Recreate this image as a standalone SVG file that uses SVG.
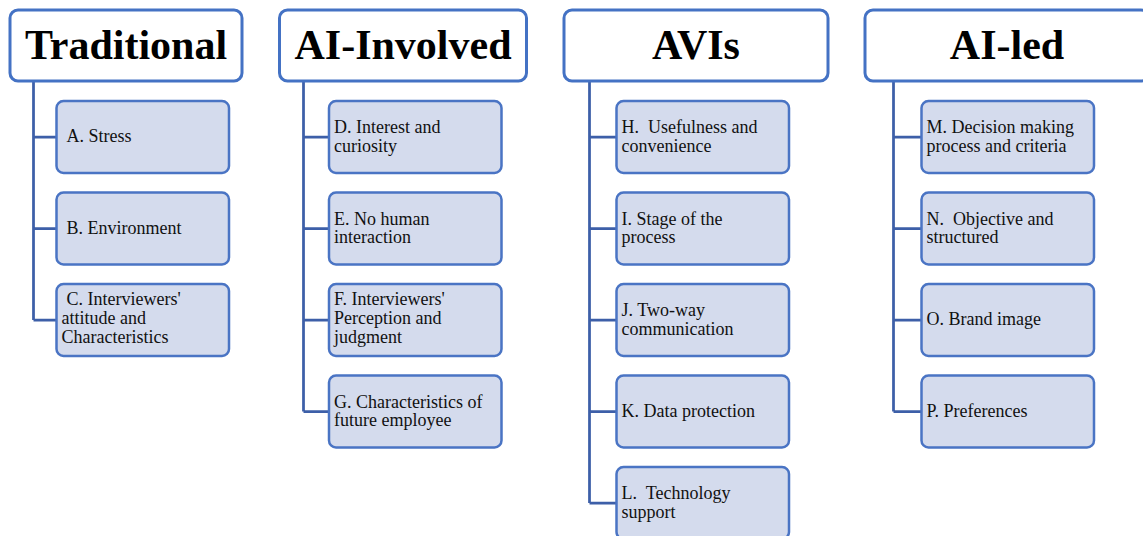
<svg xmlns="http://www.w3.org/2000/svg" width="1143" height="536" viewBox="0 0 1143 536">
  <style>
    .head { fill: #ffffff; stroke: #4472c4; stroke-width: 3; }
    .head-label { font-family: "Liberation Serif", "Times New Roman", serif; font-weight: bold; font-size: 42px; fill: #000000; text-anchor: middle; }
    .item { fill: #d4dbed; stroke: #4a74c4; stroke-width: 2.5; }
    .item-label { font-family: "Liberation Serif", "Times New Roman", serif; font-size: 18px; fill: #111111; }
    .link { fill: none; stroke: #3d5fa8; stroke-width: 2.75; }
  </style>
  <rect width="1143" height="536" fill="#ffffff"/>

  <!-- tree connectors: one spine per column with branches to each item -->
  <g id="connectors">
    <path class="link" d="M33.5 81 V320 M33.5 137 H56.5 M33.5 228.5 H56.5 M33.5 320 H56.5"/>
    <path class="link" d="M303.5 81 V411.5 M303.5 137 H329 M303.5 228.5 H329 M303.5 320 H329 M303.5 411.5 H329"/>
    <path class="link" d="M589.5 81 V503 M589.5 137 H616.5 M589.5 228.5 H616.5 M589.5 320 H616.5 M589.5 411.5 H616.5 M589.5 503 H616.5"/>
    <path class="link" d="M893.5 81 V411.5 M893.5 137 H921.5 M893.5 228.5 H921.5 M893.5 320 H921.5 M893.5 411.5 H921.5"/>
  </g>

  <!-- column headers -->
  <g id="traditional">
    <rect class="head" x="10" y="10" width="232" height="71" rx="8"/>
    <text class="head-label" x="126" y="59">Traditional</text>
  </g>
  <g id="ai-involved">
    <rect class="head" x="279.5" y="10" width="247" height="71" rx="8"/>
    <text class="head-label" x="403" y="59">AI-Involved</text>
  </g>
  <g id="avis">
    <rect class="head" x="564" y="10" width="264" height="71" rx="8"/>
    <text class="head-label" x="696" y="59">AVIs</text>
  </g>
  <g id="ai-led">
    <rect class="head" x="865" y="10" width="284" height="71" rx="8"/>
    <text class="head-label" x="1007" y="59">AI-led</text>
  </g>

  <!-- Traditional items -->
  <g id="item-a">
    <rect class="item" x="56.5" y="101" width="172.5" height="72" rx="7"/>
    <text class="item-label" x="66.5" y="142">A. Stress</text>
  </g>
  <g id="item-b">
    <rect class="item" x="56.5" y="192.5" width="172.5" height="72" rx="7"/>
    <text class="item-label" x="66.5" y="233.5">B. Environment</text>
  </g>
  <g id="item-c">
    <rect class="item" x="56.5" y="284" width="172.5" height="72" rx="7"/>
    <text class="item-label" y="305"><tspan x="66.5">C. Interviewers'</tspan><tspan x="61.5" dy="19">attitude and</tspan><tspan x="61.5" dy="19">Characteristics</tspan></text>
  </g>

  <!-- AI-Involved items -->
  <g id="item-d">
    <rect class="item" x="329" y="101" width="172.5" height="72" rx="7"/>
    <text class="item-label" y="133"><tspan x="334">D. Interest and</tspan><tspan x="334" dy="18.5">curiosity</tspan></text>
  </g>
  <g id="item-e">
    <rect class="item" x="329" y="192.5" width="172.5" height="72" rx="7"/>
    <text class="item-label" y="224.5"><tspan x="334">E. No human</tspan><tspan x="334" dy="18.5">interaction</tspan></text>
  </g>
  <g id="item-f">
    <rect class="item" x="329" y="284" width="172.5" height="72" rx="7"/>
    <text class="item-label" y="305"><tspan x="334">F. Interviewers'</tspan><tspan x="334" dy="19">Perception and</tspan><tspan x="334" dy="19">judgment</tspan></text>
  </g>
  <g id="item-g">
    <rect class="item" x="329" y="375.5" width="172.5" height="72" rx="7"/>
    <text class="item-label" y="407.5"><tspan x="334">G. Characteristics of</tspan><tspan x="334" dy="18.5">future employee</tspan></text>
  </g>

  <!-- AVIs items -->
  <g id="item-h">
    <rect class="item" x="616.5" y="101" width="172.5" height="72" rx="7"/>
    <text class="item-label" y="133" xml:space="preserve"><tspan x="621.5">H.  Usefulness and</tspan><tspan x="621.5" dy="18.5">convenience</tspan></text>
  </g>
  <g id="item-i">
    <rect class="item" x="616.5" y="192.5" width="172.5" height="72" rx="7"/>
    <text class="item-label" y="224.5"><tspan x="621.5">I. Stage of the</tspan><tspan x="621.5" dy="18.5">process</tspan></text>
  </g>
  <g id="item-j">
    <rect class="item" x="616.5" y="284" width="172.5" height="72" rx="7"/>
    <text class="item-label" y="316"><tspan x="621.5">J. Two-way</tspan><tspan x="621.5" dy="18.5">communication</tspan></text>
  </g>
  <g id="item-k">
    <rect class="item" x="616.5" y="375.5" width="172.5" height="72" rx="7"/>
    <text class="item-label" x="621.5" y="416.5">K. Data protection</text>
  </g>
  <g id="item-l">
    <rect class="item" x="616.5" y="467" width="172.5" height="72" rx="7"/>
    <text class="item-label" y="499" xml:space="preserve"><tspan x="621.5">L.  Technology</tspan><tspan x="621.5" dy="18.5">support</tspan></text>
  </g>

  <!-- AI-led items -->
  <g id="item-m">
    <rect class="item" x="921.5" y="101" width="172.5" height="72" rx="7"/>
    <text class="item-label" y="133"><tspan x="926.5">M. Decision making</tspan><tspan x="926.5" dy="18.5">process and criteria</tspan></text>
  </g>
  <g id="item-n">
    <rect class="item" x="921.5" y="192.5" width="172.5" height="72" rx="7"/>
    <text class="item-label" y="224.5" xml:space="preserve"><tspan x="926.5">N.  Objective and</tspan><tspan x="926.5" dy="18.5">structured</tspan></text>
  </g>
  <g id="item-o">
    <rect class="item" x="921.5" y="284" width="172.5" height="72" rx="7"/>
    <text class="item-label" x="926.5" y="325">O. Brand image</text>
  </g>
  <g id="item-p">
    <rect class="item" x="921.5" y="375.5" width="172.5" height="72" rx="7"/>
    <text class="item-label" x="926.5" y="416.5">P. Preferences</text>
  </g>
</svg>
